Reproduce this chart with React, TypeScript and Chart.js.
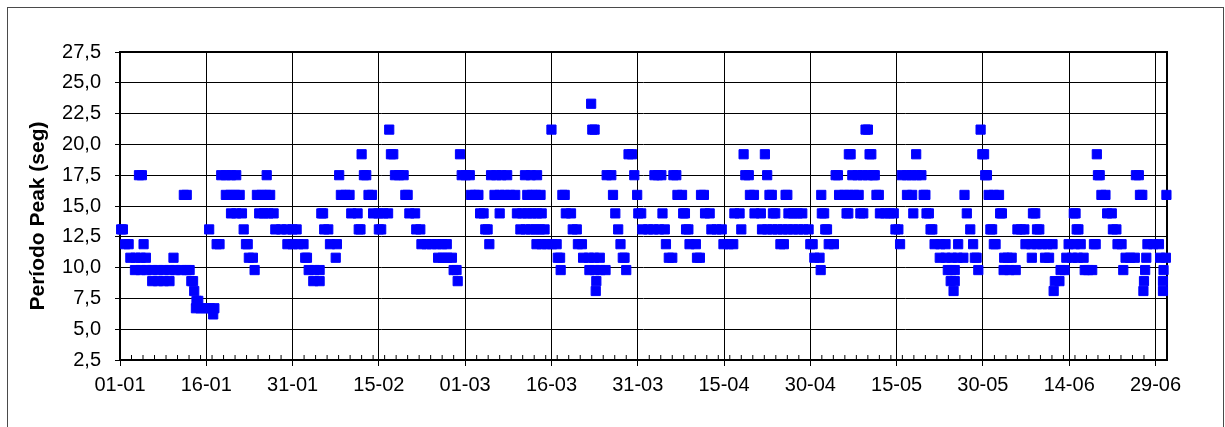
import { useEffect, useRef } from 'react';
import { Chart, registerables } from 'chart.js';

Chart.register(...registerables);

// X axis: day of year (0 = 01-01, leap year)
const X_MIN = 0;
const X_MAX = 182;
const X_TICK_DAYS = [0, 15, 30, 45, 60, 75, 90, 105, 120, 135, 150, 165, 180];
const X_TICK_LABELS = ['01-01', '16-01', '31-01', '15-02', '01-03', '16-03', '31-03', '15-04', '30-04', '15-05', '30-05', '14-06', '29-06'];
const X_MINOR_STEP = 2;

// Y axis
const Y_MIN = 2.5;
const Y_MAX = 27.5;
const Y_STEP = 2.5;
const Y_TITLE = 'Período Peak (seg)';

// Peak period levels (s) and the days at which each level was recorded
const PERIOD_LEVELS = [6.2, 6.7, 7.3, 8.1, 8.9, 9.8, 10.8, 11.9, 13.1, 14.4, 15.9, 17.5, 19.2, 21.2, 23.3];

const DAYS_6_2 = [16.2];
const DAYS_6_7 = [13.2, 14.0, 14.8, 15.6, 16.4];
const DAYS_7_3 = [13.3, 13.6];
const DAYS_8_1 = [12.9, 82.7, 144.9, 162.3, 177.9, 181.3];
const DAYS_8_9 = [5.6, 6.6, 7.6, 8.6, 12.4, 12.7, 33.6, 34.7, 58.7, 82.8, 144.4, 145.1, 162.5, 163.3, 178.0, 181.3];
const DAYS_9_8 = [2.6, 3.6, 4.6, 5.6, 6.6, 7.6, 8.6, 9.6, 10.6, 11.6, 12.1, 23.4, 32.8, 33.8, 34.7, 58.0, 58.5, 76.6, 81.6, 82.5, 83.5, 84.4, 88.0, 121.8, 143.9, 144.5, 145.1, 149.2, 153.6, 154.6, 155.7, 163.5, 164.2, 167.7, 168.3, 169.0, 174.4, 178.2, 181.4];
const DAYS_10_8 = [1.8, 2.7, 3.6, 4.5, 9.3, 22.4, 23.1, 32.2, 32.5, 37.5, 55.3, 56.1, 56.9, 57.7, 76.1, 76.5, 80.5, 81.5, 82.4, 83.4, 87.4, 87.7, 95.4, 96.0, 100.3, 100.8, 120.7, 121.6, 142.5, 143.5, 144.6, 145.6, 146.6, 148.6, 148.9, 153.7, 154.3, 155.0, 158.5, 160.8, 161.5, 164.5, 165.5, 166.5, 167.5, 174.8, 175.6, 176.4, 178.4, 180.8, 181.8];
const DAYS_11_9 = [0.9, 1.5, 4.1, 16.8, 17.3, 21.9, 22.2, 29.1, 30.0, 31.0, 31.9, 36.5, 37.7, 52.4, 53.3, 54.2, 55.1, 56.0, 56.8, 64.2, 72.4, 73.3, 74.2, 75.1, 75.9, 79.6, 80.3, 87.0, 94.9, 99.0, 100.1, 104.9, 105.8, 106.6, 114.8, 115.4, 120.0, 120.4, 123.2, 124.1, 135.6, 141.6, 142.6, 143.5, 145.7, 148.3, 151.9, 152.2, 157.4, 158.4, 159.4, 160.3, 161.2, 162.1, 164.9, 166.0, 167.0, 169.3, 169.6, 173.4, 174.1, 178.6, 179.6, 180.6];
const DAYS_13_1 = [0.2, 0.5, 15.5, 21.5, 27.0, 28.0, 29.0, 30.0, 30.7, 35.5, 36.2, 41.5, 41.8, 45.0, 45.4, 51.5, 52.2, 63.5, 63.9, 69.6, 70.5, 71.4, 72.2, 73.0, 73.8, 78.7, 79.4, 86.6, 90.8, 91.8, 92.7, 93.7, 94.7, 98.4, 98.8, 102.8, 103.7, 104.6, 108.0, 111.6, 112.5, 113.4, 114.3, 115.2, 116.1, 117.0, 117.9, 118.8, 119.7, 122.6, 122.9, 134.8, 135.3, 140.9, 141.2, 147.8, 151.3, 151.6, 156.0, 156.6, 157.2, 159.4, 159.8, 166.3, 166.6, 172.6, 173.2];
const DAYS_14_4 = [19.3, 20.2, 21.2, 24.2, 25.0, 25.8, 26.7, 35.0, 35.3, 40.2, 41.3, 44.0, 44.9, 45.8, 46.6, 50.3, 51.3, 62.6, 63.2, 66.0, 69.0, 69.9, 70.8, 71.6, 72.5, 73.3, 77.5, 78.4, 86.1, 90.1, 90.6, 94.3, 97.9, 98.2, 101.7, 102.5, 106.8, 107.7, 110.3, 111.4, 113.5, 113.9, 116.2, 117.0, 117.8, 118.6, 122.0, 122.4, 126.3, 126.6, 128.7, 129.2, 132.1, 133.0, 133.8, 134.5, 137.9, 140.2, 140.6, 147.2, 153.0, 153.3, 158.7, 159.1, 165.8, 166.1, 171.6, 172.4];
const DAYS_15_9 = [11.1, 11.6, 18.4, 19.2, 20.0, 20.8, 23.8, 24.6, 25.4, 26.1, 38.4, 39.2, 39.9, 43.2, 43.8, 49.6, 50.0, 61.0, 61.7, 62.3, 65.1, 66.0, 66.9, 67.8, 68.7, 70.8, 71.6, 72.3, 73.1, 76.9, 77.3, 85.7, 89.9, 96.9, 97.7, 101.0, 101.5, 109.5, 110.2, 112.9, 113.3, 115.7, 116.0, 121.9, 125.0, 125.9, 126.7, 127.6, 128.4, 131.5, 131.9, 136.8, 137.7, 139.7, 140.0, 146.8, 151.0, 151.9, 152.8, 170.6, 171.3, 177.3, 177.7, 181.9];
const DAYS_17_5 = [3.3, 3.8, 17.6, 18.4, 19.3, 20.2, 25.5, 38.1, 42.4, 42.8, 47.8, 48.5, 49.3, 59.4, 60.1, 60.8, 64.5, 65.4, 66.3, 67.3, 70.4, 71.4, 72.5, 84.6, 85.4, 89.4, 92.9, 93.5, 94.1, 96.2, 96.7, 108.7, 109.3, 112.5, 124.4, 124.8, 127.3, 128.2, 129.1, 130.0, 130.9, 131.2, 135.9, 136.8, 137.6, 138.5, 139.3, 150.4, 150.7, 170.0, 170.3, 176.6, 177.1];
const DAYS_19_2 = [42.0, 47.1, 47.5, 59.1, 88.4, 89.0, 108.4, 112.1, 126.7, 127.0, 130.3, 130.6, 138.4, 149.9, 150.2, 169.8];
const DAYS_21_2 = [46.8, 75.0, 82.1, 82.5, 129.6, 130.0, 149.6];
const DAYS_23_3 = [81.9];

const DAYS_BY_LEVEL = [DAYS_6_2, DAYS_6_7, DAYS_7_3, DAYS_8_1, DAYS_8_9, DAYS_9_8, DAYS_10_8, DAYS_11_9, DAYS_13_1, DAYS_14_4, DAYS_15_9, DAYS_17_5, DAYS_19_2, DAYS_21_2, DAYS_23_3];

const FONT_FAMILY = "'Liberation Sans', Arial, sans-serif";
const MARKER_COLOR = '#0000FF';

const framePlugin = {
  id: 'plotFrame',
  beforeDatasetsDraw(chart: any) {
    const { ctx, chartArea, scales } = chart;
    const { left, right, top, bottom } = chartArea;
    const x = scales.x;
    ctx.save();
    ctx.strokeStyle = '#000';
    ctx.lineWidth = 1;
    for (let d = X_MIN + X_MINOR_STEP; d < X_MAX; d += X_MINOR_STEP) {
      if (X_TICK_DAYS.includes(d)) continue;
      const px = x.getPixelForValue(d);
      ctx.beginPath();
      ctx.moveTo(px, bottom);
      ctx.lineTo(px, bottom - 5);
      ctx.stroke();
    }
    ctx.lineWidth = 2;
    ctx.strokeRect(left, top, right - left, bottom - top);
    ctx.restore();
  },
  afterDraw(chart: any) {
    const { ctx } = chart;
    ctx.save();
    ctx.translate(38, 216);
    ctx.rotate(-Math.PI / 2);
    ctx.font = `bold 21px ${FONT_FAMILY}`;
    ctx.fillStyle = '#000';
    ctx.textAlign = 'center';
    ctx.textBaseline = 'middle';
    ctx.fillText(Y_TITLE, 0, 0);
    ctx.restore();
  },
};

export default function App() {
  const canvasRef = useRef<HTMLCanvasElement | null>(null);

  useEffect(() => {
    const canvas = canvasRef.current;
    if (!canvas) return;
    const points = PERIOD_LEVELS.flatMap((lvl, i) => DAYS_BY_LEVEL[i].map((d) => ({ x: d, y: lvl })));
    const chart = new Chart(canvas, {
      type: 'scatter',
      data: {
        datasets: [
          {
            label: 'Período Peak',
            data: points,
            pointStyle: 'rect',
            pointRadius: 6.5,
            pointBorderWidth: 1,
            backgroundColor: MARKER_COLOR,
            borderColor: MARKER_COLOR,
            showLine: false,
            clip: false as any,
          },
        ],
      },
      options: {
        animation: false,
        responsive: false,
        devicePixelRatio: 1,
        layout: { padding: { left: 21, right: 58, top: 52, bottom: 0 } },
        plugins: {
          legend: { display: false },
          tooltip: { enabled: false },
        },
        scales: {
          x: {
            type: 'linear',
            min: X_MIN,
            max: X_MAX,
            afterBuildTicks: (scale: any) => {
              scale.ticks = X_TICK_DAYS.map((v) => ({ value: v }));
            },
            afterFit: (scale: any) => {
              scale.height = 67;
            },
            ticks: {
              autoSkip: false,
              maxRotation: 0,
              padding: 7,
              color: '#000',
              font: { family: FONT_FAMILY, size: 20 },
              callback: (_v: any, i: number) => X_TICK_LABELS[i],
            },
            grid: { color: '#000', lineWidth: 1, tickLength: 6, tickColor: '#000' },
            border: { display: false },
          },
          y: {
            type: 'linear',
            min: Y_MIN,
            max: Y_MAX,
            afterFit: (scale: any) => {
              scale.width = 99;
            },
            ticks: {
              stepSize: Y_STEP,
              padding: 14,
              color: '#000',
              font: { family: FONT_FAMILY, size: 20 },
              callback: (v: any) => Number(v).toFixed(1).replace('.', ','),
            },
            grid: { color: '#000', lineWidth: 1, tickLength: 5, tickColor: '#000' },
            border: { display: false },
          },
        },
      },
      plugins: [framePlugin],
    });
    return () => chart.destroy();
  }, []);

  return (
    <div style={{ position: 'absolute', left: 0, top: 0, width: 1225, height: 427, background: '#fff' }}>
      <canvas ref={canvasRef} width={1225} height={427} style={{ display: 'block' }} />
      <div
        style={{
          position: 'absolute',
          left: 7,
          top: 7,
          width: 1217,
          height: 420,
          boxSizing: 'border-box',
          border: '1px solid #4a4a4a',
          borderBottom: 'none',
          pointerEvents: 'none',
        }}
      />
    </div>
  );
}
